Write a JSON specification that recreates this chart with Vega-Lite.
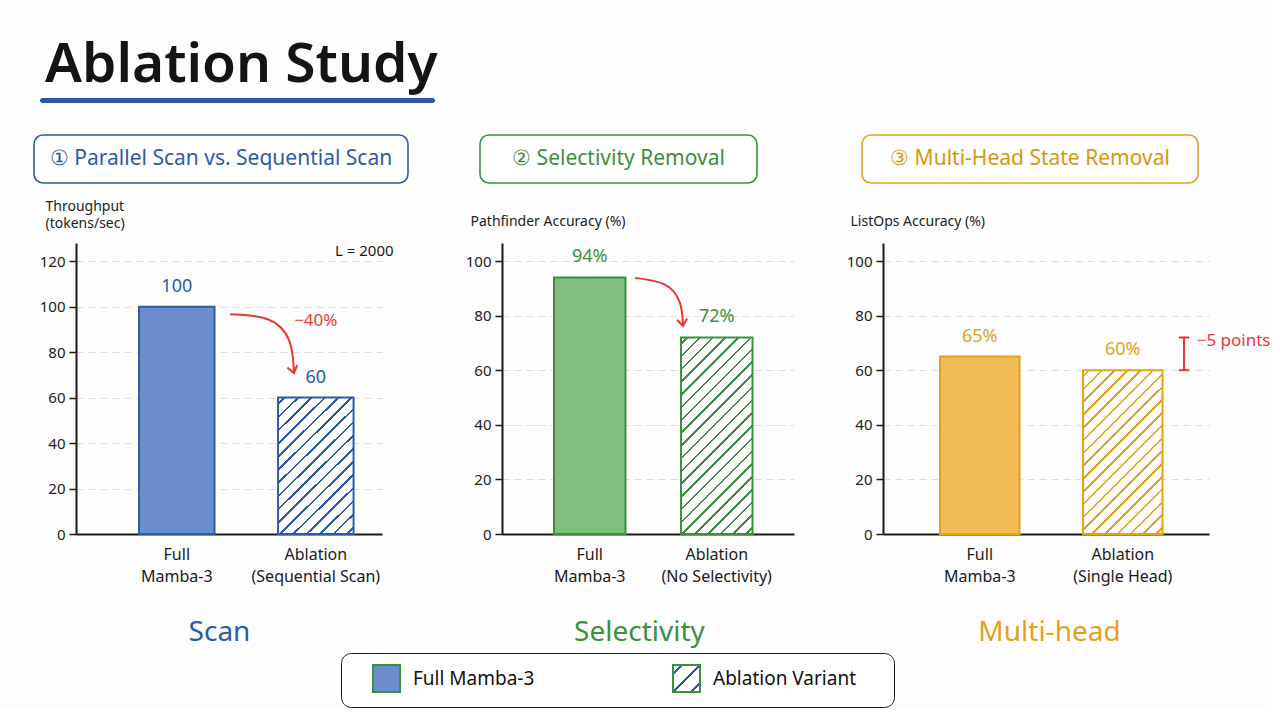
{
  "$schema": "https://vega.github.io/schema/vega-lite/v6.json",
  "background": "#fdfdfd",
  "padding": {"left": 33, "top": 38, "right": 0, "bottom": 0},
  "config": {
    "font": "Noto Sans",
    "view": {"stroke": null},
    "axis": {
      "domainColor": "#1a1a1a", "domainWidth": 2,
      "tickColor": "#1a1a1a", "tickWidth": 1.5,
      "labelColor": "#222222", "labelFont": "Noto Sans", "labelFontSize": 15,
      "titleFont": "Noto Sans", "titleFontWeight": "normal", "titleColor": "#222222",
      "gridColor": "#dddddd", "gridDash": [7, 5], "gridWidth": 1.2
    },
    "axisY": {"tickSize": 7, "labelPadding": 4, "grid": true, "titleFontSize": 14, "titleAngle": 0, "titleAlign": "left", "titleBaseline": "top", "titleLineHeight": 17},
    "axisX": {"grid": false, "ticks": false, "labelAngle": 0, "labelFontSize": 16, "labelColor": "#1a1a1a", "labelPadding": 12, "labelLineHeight": 22, "titleFontSize": 28, "titlePadding": 34, "titleAlign": "center"},
    "text": {"font": "Noto Sans"}
  },
  "datasets": {
    "headers": [
      {"panel": "scan", "title": "① Parallel Scan vs. Sequential Scan"},
      {"panel": "sel", "title": "② Selectivity Removal"},
      {"panel": "multi", "title": "③ Multi-Head State Removal"}
    ],
    "bars": [
      {"panel": "scan", "bar": "Full Mamba-3", "series": "scan-full", "value": 100, "label": "100"},
      {"panel": "scan", "bar": "Ablation (Sequential Scan)", "series": "scan-ablation", "value": 60, "label": "60"},
      {"panel": "sel", "bar": "Full Mamba-3", "series": "sel-full", "value": 94, "label": "94%"},
      {"panel": "sel", "bar": "Ablation (No Selectivity)", "series": "sel-ablation", "value": 72, "label": "72%"},
      {"panel": "multi", "bar": "Full Mamba-3", "series": "multi-full", "value": 65, "label": "65%"},
      {"panel": "multi", "bar": "Ablation (Single Head)", "series": "multi-ablation", "value": 60, "label": "60%"}
    ],
    "arrows": [
      {"panel": "scan", "step": 0, "bar": "Ablation (Sequential Scan)", "frac": -0.636, "value": 96.7},
      {"panel": "scan", "step": 1, "bar": "Ablation (Sequential Scan)", "frac": -0.079, "value": 95.8},
      {"panel": "scan", "step": 2, "bar": "Ablation (Sequential Scan)", "frac": 0.185, "value": 86.2},
      {"panel": "scan", "step": 3, "bar": "Ablation (Sequential Scan)", "frac": 0.212, "value": 70.8},
      {"panel": "sel", "step": 0, "bar": "Ablation (No Selectivity)", "frac": -0.643, "value": 93.8},
      {"panel": "sel", "step": 1, "bar": "Ablation (No Selectivity)", "frac": -0.182, "value": 92.3},
      {"panel": "sel", "step": 2, "bar": "Ablation (No Selectivity)", "frac": 0.014, "value": 85.0},
      {"panel": "sel", "step": 3, "bar": "Ablation (No Selectivity)", "frac": 0.028, "value": 76.2}
    ],
    "notes": [
      {"panel": "scan", "kind": "delta", "bar": "Ablation (Sequential Scan)", "frac": 0.5, "value": 93.6, "note": "−40%"},
      {"panel": "scan", "kind": "setting", "bar": "Ablation (Sequential Scan)", "frac": 1.53, "value": 124.4, "note": "L = 2000"},
      {"panel": "multi", "kind": "delta", "bar": "Ablation (Single Head)", "frac": 1.43, "value": 70.7, "note": "−5 points"}
    ],
    "brackets": [
      {"panel": "multi", "bar": "Ablation (Single Head)", "frac": 1.27, "low": 60, "high": 72}
    ]
  },
  "columns": 1,
  "align": "none",
  "spacing": 30,
  "concat": [
    {
      "spacing": 0, "bounds": "flush",
      "hconcat": [
        {
          "width": 6, "height": 1,
          "data": {"values": [{"part": "gap"}]},
          "mark": {"type": "text"},
          "encoding": {"text": {"value": ""}}
        },
        {
          "width": 395, "height": 5,
          "data": {"values": [{"part": "underline"}]},
          "mark": {"type": "rect", "color": "#2b59a6", "cornerRadius": 2.5},
          "encoding": {},
          "title": {"text": "Ablation Study", "anchor": "start", "fontSize": 55, "fontWeight": 600, "color": "#141414", "offset": 4, "dx": 5, "font": "Noto Sans"}
        }
      ]
    },
    {
      "columns": 1,
      "align": "none",
      "spacing": 15,
      "concat": [
        {
          "spacing": 72, "bounds": "flush",
          "hconcat": [
            {
              "width": 374, "height": 48,
              "view": {"stroke": "#2d5ba8", "strokeWidth": 1.6, "cornerRadius": 9, "fill": "#ffffff"},
              "data": {"name": "headers"},
              "transform": [{"filter": "datum.panel === 'scan'"}],
              "mark": {"type": "text", "fontSize": 21, "color": "#2d5ba8"},
              "encoding": {"text": {"field": "title"}}
            },
            {
              "spacing": 105, "bounds": "flush",
              "hconcat": [
                {
                  "width": 277, "height": 48,
                  "view": {"stroke": "#3d8f3f", "strokeWidth": 1.6, "cornerRadius": 9, "fill": "#ffffff"},
                  "data": {"name": "headers"},
                  "transform": [{"filter": "datum.panel === 'sel'"}],
                  "mark": {"type": "text", "fontSize": 21, "color": "#3d8f3f"},
                  "encoding": {"text": {"field": "title"}}
                },
                {
                  "width": 336, "height": 48,
                  "view": {"stroke": "#e2a21f", "strokeWidth": 1.6, "cornerRadius": 9, "fill": "#ffffff"},
                  "data": {"name": "headers"},
                  "transform": [{"filter": "datum.panel === 'multi'"}],
                  "mark": {"type": "text", "fontSize": 21, "color": "#d9960f"},
                  "encoding": {"text": {"field": "title"}}
                }
              ]
            }
          ]
        },
        {
          "spacing": 0, "bounds": "flush",
          "hconcat": [
            {
              "width": 42, "height": 1,
              "data": {"values": [{"part": "gap"}]},
              "mark": {"type": "text"},
              "encoding": {"text": {"value": ""}}
            },
            {
              "spacing": 120, "bounds": "flush",
              "hconcat": [
                {
                  "width": 306, "height": 291,
                  "resolve": {"scale": {"xOffset": "independent"}},
                  "layer": [
                    {
                      "data": {"name": "bars"},
                      "transform": [{"filter": "datum.panel === 'scan'"}],
                      "mark": {"type": "bar", "stroke": "#2d5ba8", "strokeWidth": 2},
                      "encoding": {
                        "x": {"field": "bar", "type": "nominal",
                          "scale": {"domain": ["Full Mamba-3", "Ablation (Sequential Scan)"], "paddingInner": 0.457, "paddingOuter": 0.329, "align": 0.689},
                          "axis": {"title": "Scan", "titleColor": "#2d5ba8", "titleX": 143,
                            "labelExpr": "[substring(datum.label, 0, indexof(datum.label, ' ')), substring(datum.label, indexof(datum.label, ' ') + 1)]"}},
                        "y": {"field": "value", "type": "quantitative",
                          "scale": {"domain": [0, 128], "nice": false},
                          "axis": {"values": [0, 20, 40, 60, 80, 100, 120], "title": ["Throughput", "(tokens/sec)"], "titleX": -31, "titleY": -44}},
                        "fill": {"field": "series", "type": "nominal",
                          "scale": {
                            "domain": ["scan-full", "scan-ablation", "sel-full", "sel-ablation", "multi-full", "multi-ablation", "Full Mamba-3", "Ablation Variant"],
                            "range": [
                              "#6a8dcd",
                              {"expr": "{gradient: 'linear', x1: 0, y1: 0, x2: 0.648, y2: 1.191, stops: [{offset: 0, color: '#fff'}, {offset: 0.025, color: '#fff'}, {offset: 0.025, color: '#2d5ba8'}, {offset: 0.0375, color: '#2d5ba8'}, {offset: 0.0375, color: '#fff'}, {offset: 0.0875, color: '#fff'}, {offset: 0.0875, color: '#2d5ba8'}, {offset: 0.1, color: '#2d5ba8'}, {offset: 0.1, color: '#fff'}, {offset: 0.15, color: '#fff'}, {offset: 0.15, color: '#2d5ba8'}, {offset: 0.1625, color: '#2d5ba8'}, {offset: 0.1625, color: '#fff'}, {offset: 0.2125, color: '#fff'}, {offset: 0.2125, color: '#2d5ba8'}, {offset: 0.225, color: '#2d5ba8'}, {offset: 0.225, color: '#fff'}, {offset: 0.275, color: '#fff'}, {offset: 0.275, color: '#2d5ba8'}, {offset: 0.2875, color: '#2d5ba8'}, {offset: 0.2875, color: '#fff'}, {offset: 0.3375, color: '#fff'}, {offset: 0.3375, color: '#2d5ba8'}, {offset: 0.35, color: '#2d5ba8'}, {offset: 0.35, color: '#fff'}, {offset: 0.4, color: '#fff'}, {offset: 0.4, color: '#2d5ba8'}, {offset: 0.4125, color: '#2d5ba8'}, {offset: 0.4125, color: '#fff'}, {offset: 0.4625, color: '#fff'}, {offset: 0.4625, color: '#2d5ba8'}, {offset: 0.475, color: '#2d5ba8'}, {offset: 0.475, color: '#fff'}, {offset: 0.525, color: '#fff'}, {offset: 0.525, color: '#2d5ba8'}, {offset: 0.5375, color: '#2d5ba8'}, {offset: 0.5375, color: '#fff'}, {offset: 0.5875, color: '#fff'}, {offset: 0.5875, color: '#2d5ba8'}, {offset: 0.6, color: '#2d5ba8'}, {offset: 0.6, color: '#fff'}, {offset: 0.65, color: '#fff'}, {offset: 0.65, color: '#2d5ba8'}, {offset: 0.6625, color: '#2d5ba8'}, {offset: 0.6625, color: '#fff'}, {offset: 0.7125, color: '#fff'}, {offset: 0.7125, color: '#2d5ba8'}, {offset: 0.725, color: '#2d5ba8'}, {offset: 0.725, color: '#fff'}, {offset: 0.775, color: '#fff'}, {offset: 0.775, color: '#2d5ba8'}, {offset: 0.7875, color: '#2d5ba8'}, {offset: 0.7875, color: '#fff'}, {offset: 0.8375, color: '#fff'}, {offset: 0.8375, color: '#2d5ba8'}, {offset: 0.85, color: '#2d5ba8'}, {offset: 0.85, color: '#fff'}, {offset: 0.9, color: '#fff'}, {offset: 0.9, color: '#2d5ba8'}, {offset: 0.9125, color: '#2d5ba8'}, {offset: 0.9125, color: '#fff'}, {offset: 0.9625, color: '#fff'}, {offset: 0.9625, color: '#2d5ba8'}, {offset: 0.975, color: '#2d5ba8'}, {offset: 0.975, color: '#fff'}, {offset: 1, color: '#fff'}]}"},
                              "#80bf7e",
                              {"expr": "{gradient: 'linear', x1: 0, y1: 0, x2: 0.438, y2: 1.204, stops: [{offset: 0, color: '#fff'}, {offset: 0.01905, color: '#fff'}, {offset: 0.01905, color: '#3d8f3f'}, {offset: 0.02857, color: '#3d8f3f'}, {offset: 0.02857, color: '#fff'}, {offset: 0.06667, color: '#fff'}, {offset: 0.06667, color: '#3d8f3f'}, {offset: 0.07619, color: '#3d8f3f'}, {offset: 0.07619, color: '#fff'}, {offset: 0.11429, color: '#fff'}, {offset: 0.11429, color: '#3d8f3f'}, {offset: 0.12381, color: '#3d8f3f'}, {offset: 0.12381, color: '#fff'}, {offset: 0.1619, color: '#fff'}, {offset: 0.1619, color: '#3d8f3f'}, {offset: 0.17143, color: '#3d8f3f'}, {offset: 0.17143, color: '#fff'}, {offset: 0.20952, color: '#fff'}, {offset: 0.20952, color: '#3d8f3f'}, {offset: 0.21905, color: '#3d8f3f'}, {offset: 0.21905, color: '#fff'}, {offset: 0.25714, color: '#fff'}, {offset: 0.25714, color: '#3d8f3f'}, {offset: 0.26667, color: '#3d8f3f'}, {offset: 0.26667, color: '#fff'}, {offset: 0.30476, color: '#fff'}, {offset: 0.30476, color: '#3d8f3f'}, {offset: 0.31429, color: '#3d8f3f'}, {offset: 0.31429, color: '#fff'}, {offset: 0.35238, color: '#fff'}, {offset: 0.35238, color: '#3d8f3f'}, {offset: 0.3619, color: '#3d8f3f'}, {offset: 0.3619, color: '#fff'}, {offset: 0.4, color: '#fff'}, {offset: 0.4, color: '#3d8f3f'}, {offset: 0.40952, color: '#3d8f3f'}, {offset: 0.40952, color: '#fff'}, {offset: 0.44762, color: '#fff'}, {offset: 0.44762, color: '#3d8f3f'}, {offset: 0.45714, color: '#3d8f3f'}, {offset: 0.45714, color: '#fff'}, {offset: 0.49524, color: '#fff'}, {offset: 0.49524, color: '#3d8f3f'}, {offset: 0.50476, color: '#3d8f3f'}, {offset: 0.50476, color: '#fff'}, {offset: 0.54286, color: '#fff'}, {offset: 0.54286, color: '#3d8f3f'}, {offset: 0.55238, color: '#3d8f3f'}, {offset: 0.55238, color: '#fff'}, {offset: 0.59048, color: '#fff'}, {offset: 0.59048, color: '#3d8f3f'}, {offset: 0.6, color: '#3d8f3f'}, {offset: 0.6, color: '#fff'}, {offset: 0.6381, color: '#fff'}, {offset: 0.6381, color: '#3d8f3f'}, {offset: 0.64762, color: '#3d8f3f'}, {offset: 0.64762, color: '#fff'}, {offset: 0.68571, color: '#fff'}, {offset: 0.68571, color: '#3d8f3f'}, {offset: 0.69524, color: '#3d8f3f'}, {offset: 0.69524, color: '#fff'}, {offset: 0.73333, color: '#fff'}, {offset: 0.73333, color: '#3d8f3f'}, {offset: 0.74286, color: '#3d8f3f'}, {offset: 0.74286, color: '#fff'}, {offset: 0.78095, color: '#fff'}, {offset: 0.78095, color: '#3d8f3f'}, {offset: 0.79048, color: '#3d8f3f'}, {offset: 0.79048, color: '#fff'}, {offset: 0.82857, color: '#fff'}, {offset: 0.82857, color: '#3d8f3f'}, {offset: 0.8381, color: '#3d8f3f'}, {offset: 0.8381, color: '#fff'}, {offset: 0.87619, color: '#fff'}, {offset: 0.87619, color: '#3d8f3f'}, {offset: 0.88571, color: '#3d8f3f'}, {offset: 0.88571, color: '#fff'}, {offset: 0.92381, color: '#fff'}, {offset: 0.92381, color: '#3d8f3f'}, {offset: 0.93333, color: '#3d8f3f'}, {offset: 0.93333, color: '#fff'}, {offset: 0.97143, color: '#fff'}, {offset: 0.97143, color: '#3d8f3f'}, {offset: 0.98095, color: '#3d8f3f'}, {offset: 0.98095, color: '#fff'}, {offset: 1, color: '#fff'}]}"},
                              "#f0bd57",
                              {"expr": "{gradient: 'linear', x1: 0, y1: 0, x2: 0.583, y2: 1.202, stops: [{offset: 0, color: '#fff'}, {offset: 0.02105, color: '#fff'}, {offset: 0.02105, color: '#e2a21f'}, {offset: 0.03158, color: '#e2a21f'}, {offset: 0.03158, color: '#fff'}, {offset: 0.07368, color: '#fff'}, {offset: 0.07368, color: '#e2a21f'}, {offset: 0.08421, color: '#e2a21f'}, {offset: 0.08421, color: '#fff'}, {offset: 0.12632, color: '#fff'}, {offset: 0.12632, color: '#e2a21f'}, {offset: 0.13684, color: '#e2a21f'}, {offset: 0.13684, color: '#fff'}, {offset: 0.17895, color: '#fff'}, {offset: 0.17895, color: '#e2a21f'}, {offset: 0.18947, color: '#e2a21f'}, {offset: 0.18947, color: '#fff'}, {offset: 0.23158, color: '#fff'}, {offset: 0.23158, color: '#e2a21f'}, {offset: 0.24211, color: '#e2a21f'}, {offset: 0.24211, color: '#fff'}, {offset: 0.28421, color: '#fff'}, {offset: 0.28421, color: '#e2a21f'}, {offset: 0.29474, color: '#e2a21f'}, {offset: 0.29474, color: '#fff'}, {offset: 0.33684, color: '#fff'}, {offset: 0.33684, color: '#e2a21f'}, {offset: 0.34737, color: '#e2a21f'}, {offset: 0.34737, color: '#fff'}, {offset: 0.38947, color: '#fff'}, {offset: 0.38947, color: '#e2a21f'}, {offset: 0.4, color: '#e2a21f'}, {offset: 0.4, color: '#fff'}, {offset: 0.44211, color: '#fff'}, {offset: 0.44211, color: '#e2a21f'}, {offset: 0.45263, color: '#e2a21f'}, {offset: 0.45263, color: '#fff'}, {offset: 0.49474, color: '#fff'}, {offset: 0.49474, color: '#e2a21f'}, {offset: 0.50526, color: '#e2a21f'}, {offset: 0.50526, color: '#fff'}, {offset: 0.54737, color: '#fff'}, {offset: 0.54737, color: '#e2a21f'}, {offset: 0.55789, color: '#e2a21f'}, {offset: 0.55789, color: '#fff'}, {offset: 0.6, color: '#fff'}, {offset: 0.6, color: '#e2a21f'}, {offset: 0.61053, color: '#e2a21f'}, {offset: 0.61053, color: '#fff'}, {offset: 0.65263, color: '#fff'}, {offset: 0.65263, color: '#e2a21f'}, {offset: 0.66316, color: '#e2a21f'}, {offset: 0.66316, color: '#fff'}, {offset: 0.70526, color: '#fff'}, {offset: 0.70526, color: '#e2a21f'}, {offset: 0.71579, color: '#e2a21f'}, {offset: 0.71579, color: '#fff'}, {offset: 0.75789, color: '#fff'}, {offset: 0.75789, color: '#e2a21f'}, {offset: 0.76842, color: '#e2a21f'}, {offset: 0.76842, color: '#fff'}, {offset: 0.81053, color: '#fff'}, {offset: 0.81053, color: '#e2a21f'}, {offset: 0.82105, color: '#e2a21f'}, {offset: 0.82105, color: '#fff'}, {offset: 0.86316, color: '#fff'}, {offset: 0.86316, color: '#e2a21f'}, {offset: 0.87368, color: '#e2a21f'}, {offset: 0.87368, color: '#fff'}, {offset: 0.91579, color: '#fff'}, {offset: 0.91579, color: '#e2a21f'}, {offset: 0.92632, color: '#e2a21f'}, {offset: 0.92632, color: '#fff'}, {offset: 0.96842, color: '#fff'}, {offset: 0.96842, color: '#e2a21f'}, {offset: 0.97895, color: '#e2a21f'}, {offset: 0.97895, color: '#fff'}, {offset: 1, color: '#fff'}]}"},
                              "#6a8dcd",
                              {"expr": "{gradient: 'linear', x1: 0, y1: 0, x2: 1, y2: 1, stops: [{offset: 0, color: '#fff'}, {offset: 0.144, color: '#fff'}, {offset: 0.144, color: '#2d5ba8'}, {offset: 0.19, color: '#2d5ba8'}, {offset: 0.19, color: '#fff'}, {offset: 0.477, color: '#fff'}, {offset: 0.477, color: '#2d5ba8'}, {offset: 0.523, color: '#2d5ba8'}, {offset: 0.523, color: '#fff'}, {offset: 0.81, color: '#fff'}, {offset: 0.81, color: '#2d5ba8'}, {offset: 0.856, color: '#2d5ba8'}, {offset: 0.856, color: '#fff'}, {offset: 1, color: '#fff'}]}"}
                            ]
                          },
                          "legend": {
                            "orient": "none", "legendX": 307, "legendY": 555, "direction": "horizontal",
                            "title": " ", "titleOrient": "right", "titlePadding": 27,
                            "values": ["Full Mamba-3", "Ablation Variant"],
                            "symbolType": "square", "symbolSize": 729, "symbolStrokeColor": "#2d5ba8", "symbolStrokeWidth": 2,
                            "symbolOffset": 20, "labelFontSize": 19, "labelColor": "#111111", "labelOffset": 12,
                            "columnPadding": 117, "padding": 11, "strokeColor": "#1a1a1a", "cornerRadius": 10, "fillColor": "#ffffff"
                          }
                        }
                      }
                    },
                    {
                      "data": {"name": "bars"},
                      "transform": [{"filter": "datum.panel === 'scan'"}],
                      "mark": {"type": "text", "dy": -20, "fontSize": 18, "color": "#2d5ba8"},
                      "encoding": {
                        "x": {"field": "bar", "type": "nominal"},
                        "y": {"field": "value", "type": "quantitative"},
                        "text": {"field": "label"}
                      }
                    },
                    {
                      "data": {"name": "arrows"},
                      "transform": [{"filter": "datum.panel === 'scan'"}],
                      "mark": {"type": "line", "interpolate": "basis", "color": "#e53935", "strokeWidth": 2},
                      "encoding": {
                        "x": {"field": "bar", "type": "nominal"},
                        "xOffset": {"field": "frac", "type": "quantitative", "scale": {"domain": [0, 1]}},
                        "y": {"field": "value", "type": "quantitative"},
                        "order": {"field": "step", "type": "quantitative"}
                      }
                    },
                    {
                      "data": {"name": "arrows"},
                      "transform": [{"filter": "datum.panel === 'scan' && datum.step === 3"}],
                      "mark": {"type": "point", "shape": "M-0.8,-1.1L0,0L0.8,-1.1", "size": 160, "angle": -15, "color": "#e53935", "strokeWidth": 2, "filled": false, "opacity": 1},
                      "encoding": {
                        "x": {"field": "bar", "type": "nominal"},
                        "xOffset": {"field": "frac", "type": "quantitative", "scale": {"domain": [0, 1]}},
                        "y": {"field": "value", "type": "quantitative"}
                      }
                    },
                    {
                      "data": {"name": "notes"},
                      "transform": [{"filter": "datum.panel === 'scan' && datum.kind === 'delta'"}],
                      "mark": {"type": "text", "fontSize": 17, "color": "#e53935"},
                      "encoding": {
                        "x": {"field": "bar", "type": "nominal"},
                        "xOffset": {"field": "frac", "type": "quantitative", "scale": {"domain": [0, 1]}},
                        "y": {"field": "value", "type": "quantitative"},
                        "text": {"field": "note"}
                      }
                    },
                    {
                      "data": {"name": "notes"},
                      "transform": [{"filter": "datum.panel === 'scan' && datum.kind === 'setting'"}],
                      "mark": {"type": "text", "fontSize": 15, "align": "right", "color": "#1a1a1a"},
                      "encoding": {
                        "x": {"field": "bar", "type": "nominal"},
                        "xOffset": {"field": "frac", "type": "quantitative", "scale": {"domain": [0, 1]}},
                        "y": {"field": "value", "type": "quantitative"},
                        "text": {"field": "note"}
                      }
                    }
                  ]
                },
                {
                  "spacing": 89, "bounds": "flush",
                  "hconcat": [
                    {
                      "width": 292, "height": 291,
                      "resolve": {"scale": {"xOffset": "independent"}},
                      "layer": [
                        {
                          "data": {"name": "bars"},
                          "transform": [{"filter": "datum.panel === 'sel'"}],
                          "mark": {"type": "bar", "stroke": "#3d8f3f", "strokeWidth": 2},
                          "encoding": {
                            "x": {"field": "bar", "type": "nominal",
                              "scale": {"domain": ["Full Mamba-3", "Ablation (No Selectivity)"], "paddingInner": 0.437, "paddingOuter": 0.368, "align": 0.556},
                              "axis": {"title": "Selectivity", "titleColor": "#3d8f3f", "titleX": 137,
                                "labelExpr": "[substring(datum.label, 0, indexof(datum.label, ' ')), substring(datum.label, indexof(datum.label, ' ') + 1)]"}},
                            "y": {"field": "value", "type": "quantitative",
                              "scale": {"domain": [0, 106.6], "nice": false},
                              "axis": {"values": [0, 20, 40, 60, 80, 100], "title": "Pathfinder Accuracy (%)", "titleX": -32, "titleY": -29}},
                            "fill": {"field": "series", "type": "nominal",
                              "scale": {"domain": ["scan-full", "scan-ablation", "sel-full", "sel-ablation", "multi-full", "multi-ablation", "Full Mamba-3", "Ablation Variant"]}}
                          }
                        },
                        {
                          "data": {"name": "bars"},
                          "transform": [{"filter": "datum.panel === 'sel'"}],
                          "mark": {"type": "text", "dy": -20, "fontSize": 18, "color": "#3d8f3f"},
                          "encoding": {
                            "x": {"field": "bar", "type": "nominal"},
                            "y": {"field": "value", "type": "quantitative"},
                            "text": {"field": "label"}
                          }
                        },
                        {
                          "data": {"name": "arrows"},
                          "transform": [{"filter": "datum.panel === 'sel'"}],
                          "mark": {"type": "line", "interpolate": "basis", "color": "#e53935", "strokeWidth": 2},
                          "encoding": {
                            "x": {"field": "bar", "type": "nominal"},
                            "xOffset": {"field": "frac", "type": "quantitative", "scale": {"domain": [0, 1]}},
                            "y": {"field": "value", "type": "quantitative"},
                            "order": {"field": "step", "type": "quantitative"}
                          }
                        },
                        {
                          "data": {"name": "arrows"},
                          "transform": [{"filter": "datum.panel === 'sel' && datum.step === 3"}],
                          "mark": {"type": "point", "shape": "M-0.8,-1.1L0,0L0.8,-1.1", "size": 160, "angle": -8, "color": "#e53935", "strokeWidth": 2, "filled": false, "opacity": 1},
                          "encoding": {
                            "x": {"field": "bar", "type": "nominal"},
                            "xOffset": {"field": "frac", "type": "quantitative", "scale": {"domain": [0, 1]}},
                            "y": {"field": "value", "type": "quantitative"}
                          }
                        }
                      ]
                    },
                    {
                      "width": 326, "height": 291,
                      "resolve": {"scale": {"xOffset": "independent"}},
                      "layer": [
                        {
                          "data": {"name": "bars"},
                          "transform": [{"filter": "datum.panel === 'multi'"}],
                          "mark": {"type": "bar", "stroke": "#e2a21f", "strokeWidth": 2},
                          "encoding": {
                            "x": {"field": "bar", "type": "nominal",
                              "scale": {"domain": ["Full Mamba-3", "Ablation (Single Head)"], "paddingInner": 0.444, "paddingOuter": 0.362, "align": 0.551},
                              "axis": {"title": "Multi-head", "titleColor": "#e2a21f", "titleX": 166,
                                "labelExpr": "[substring(datum.label, 0, indexof(datum.label, ' ')), substring(datum.label, indexof(datum.label, ' ') + 1)]"}},
                            "y": {"field": "value", "type": "quantitative",
                              "scale": {"domain": [0, 106.6], "nice": false},
                              "axis": {"values": [0, 20, 40, 60, 80, 100], "title": "ListOps Accuracy (%)", "titleX": -33, "titleY": -29}},
                            "fill": {"field": "series", "type": "nominal",
                              "scale": {"domain": ["scan-full", "scan-ablation", "sel-full", "sel-ablation", "multi-full", "multi-ablation", "Full Mamba-3", "Ablation Variant"]}}
                          }
                        },
                        {
                          "data": {"name": "bars"},
                          "transform": [{"filter": "datum.panel === 'multi'"}],
                          "mark": {"type": "text", "dy": -20, "fontSize": 18, "color": "#e2a21f"},
                          "encoding": {
                            "x": {"field": "bar", "type": "nominal"},
                            "y": {"field": "value", "type": "quantitative"},
                            "text": {"field": "label"}
                          }
                        },
                        {
                          "data": {"name": "brackets"},
                          "mark": {"type": "rule", "color": "#e53935", "strokeWidth": 2},
                          "encoding": {
                            "x": {"field": "bar", "type": "nominal"},
                            "xOffset": {"field": "frac", "type": "quantitative", "scale": {"domain": [0, 1]}},
                            "y": {"field": "low", "type": "quantitative"},
                            "y2": {"field": "high"}
                          }
                        },
                        {
                          "data": {"name": "brackets"},
                          "mark": {"type": "point", "shape": "stroke", "size": 110, "color": "#e53935", "strokeWidth": 2, "filled": false, "opacity": 1},
                          "encoding": {
                            "x": {"field": "bar", "type": "nominal"},
                            "xOffset": {"field": "frac", "type": "quantitative", "scale": {"domain": [0, 1]}},
                            "y": {"field": "low", "type": "quantitative"}
                          }
                        },
                        {
                          "data": {"name": "brackets"},
                          "mark": {"type": "point", "shape": "stroke", "size": 110, "color": "#e53935", "strokeWidth": 2, "filled": false, "opacity": 1},
                          "encoding": {
                            "x": {"field": "bar", "type": "nominal"},
                            "xOffset": {"field": "frac", "type": "quantitative", "scale": {"domain": [0, 1]}},
                            "y": {"field": "high", "type": "quantitative"}
                          }
                        },
                        {
                          "data": {"name": "notes"},
                          "transform": [{"filter": "datum.panel === 'multi'"}],
                          "mark": {"type": "text", "fontSize": 17, "align": "left", "color": "#e53935"},
                          "encoding": {
                            "x": {"field": "bar", "type": "nominal"},
                            "xOffset": {"field": "frac", "type": "quantitative", "scale": {"domain": [0, 1]}},
                            "y": {"field": "value", "type": "quantitative"},
                            "text": {"field": "note"}
                          }
                        }
                      ]
                    }
                  ]
                }
              ]
            }
          ]
        }
      ]
    }
  ]
}
